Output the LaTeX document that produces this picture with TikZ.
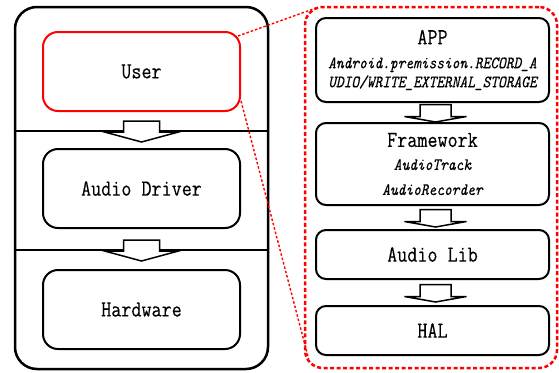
\documentclass[tikz,border=0pt]{standalone}
\usepackage{fontspec}
\usetikzlibrary{calc}
\newfontfamily\labelfont[FakeStretch=0.85,FakeBold=0.3]{Latin Modern Mono}
\newcommand\notefont{\labelfont\itshape\fontsize{17.3}{19}\selectfont}
\tikzset{
	layer/.style={draw, line width=2pt, rounded corners=15pt, minimum width=197pt, minimum height=79pt, inner sep=0pt, font=\labelfont\fontsize{23}{19}\selectfont},
	stage/.style={draw, line width=2pt, rounded corners=10pt, minimum width=233pt, inner sep=0pt, align=center, font=\labelfont\fontsize{23}{19}\selectfont},
	zoomline/.style={red, line width=1.4pt, dash pattern=on 2.5pt off 2pt},
	bigarrow/.pic={\draw[line width=1.5pt, fill=white] (-18,-9) -- (-18,2) -- (-37,2) -- (0,12) -- (37,2) -- (18,2) -- (18,-9) -- cycle;},
	smallarrow/.pic={\draw[line width=1.5pt, fill=white] (-15.5,-8) -- (-15.5,4) -- (-31,4) -- (0,9.5) -- (31,4) -- (15.5,4) -- (15.5,-8) -- cycle;}
}
\begin{document}
\begin{tikzpicture}[x=1pt,y=-1pt]
	\useasboundingbox (0,0) rectangle (559,372);

	% left column: the whole system
	\node[draw, line width=2.5pt, rounded corners=22pt, minimum width=253pt, minimum height=362pt] (system) at (141.5,188) {};
	\node[layer, red] (user) at (141.5,71.5) {\color{black}User};
	\node[layer] (driver) at (141.5,188.5) {Audio Driver};
	\node[layer] (hardware) at (141.5,309.5) {Hardware};
	\draw[line width=1.5pt] (system.west |- 0,131) -- (system.east |- 0,131);
	\draw[line width=1.5pt] (system.west |- 0,250) -- (system.east |- 0,250);
	\pic at ($(user.south)!0.5!(driver.north)$) {bigarrow};
	\pic at ($(driver.south)!0.5!(hardware.north)$) {bigarrow};

	% right column: the android stack behind User
	\node[draw=red, line width=2.5pt, dash pattern=on 4pt off 2.5pt, rounded corners=18pt, minimum width=252pt, minimum height=361pt] (android) at (431,187.5) {};
	\node[stage, minimum height=84pt] (app) at (432.5,60) {APP\\[5pt]
		{\notefont Android.premission.RECORD\_A}\\
		{\notefont UDIO/WRITE\_EXTERNAL\_STORAGE}};
	\node[stage, minimum height=82pt] (framework) at (432.5,164) {Framework\\[4pt]
		{\notefont AudioTrack}\\[6pt]
		{\notefont AudioRecorder}};
	\node[stage, minimum height=49pt] (lib) at (432.5,254.5) {Audio Lib};
	\node[stage, minimum height=49pt] (hal) at (432.5,330.5) {HAL};
	\pic at ($(app.south)!0.5!(framework.north)+(3,0)$) {smallarrow};
	\pic at ($(framework.south)!0.5!(lib.north)+(3,0)$) {smallarrow};
	\pic at ($(lib.south)!0.5!(hal.north)+(3,0)$) {smallarrow};

	% zoom lines
	\draw[zoomline] ([xshift=-3pt,yshift=-5pt]user.north east) -- ([xshift=13pt,yshift=-2pt]android.north west);
	\draw[zoomline] ([yshift=11pt]user.south east) -- ([xshift=5pt,yshift=10pt]android.south west);
\end{tikzpicture}
\end{document}
